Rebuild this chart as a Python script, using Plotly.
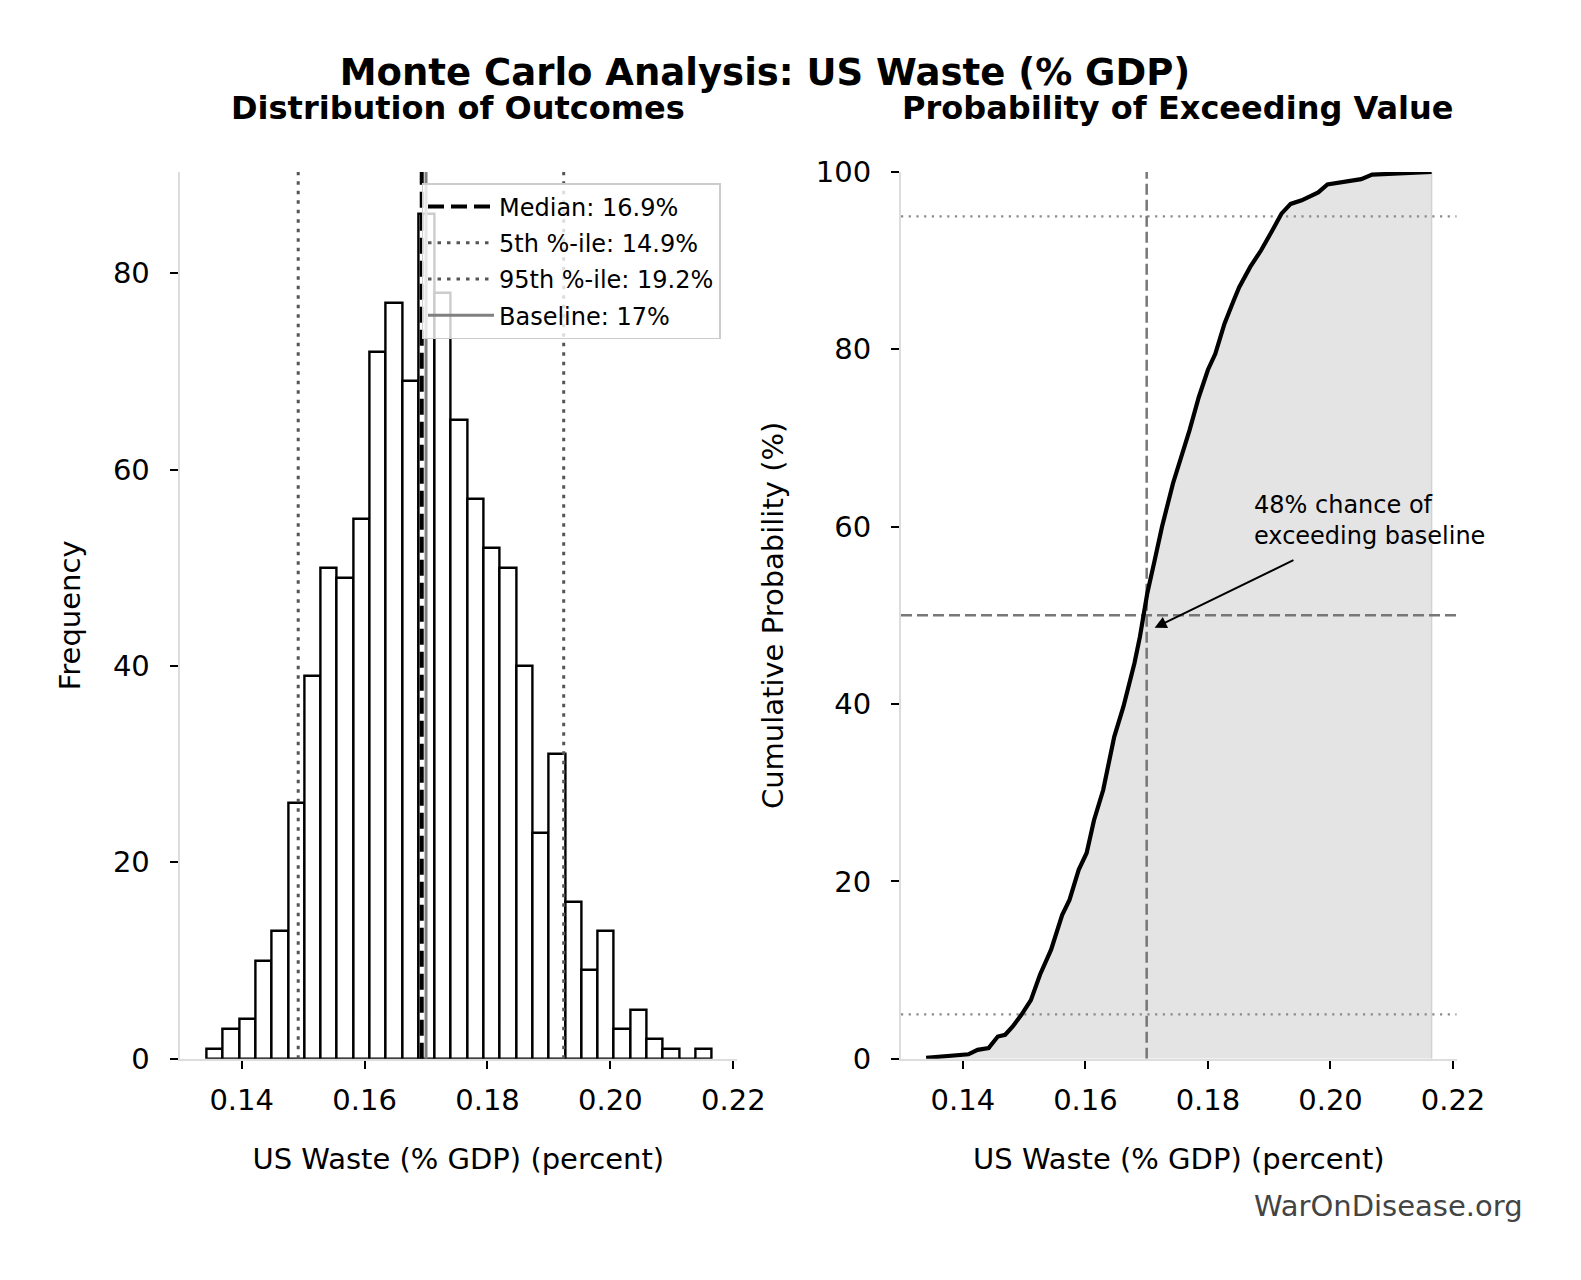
import numpy as np
import plotly.graph_objects as go

# ---------------- data ----------------
hist_counts = [1, 3, 4, 10, 13, 26, 39, 50, 49, 55, 72, 77, 69, 86, 78, 65,
               57, 52, 50, 40, 23, 31, 16, 9, 13, 3, 5, 2, 1, 0, 1]
hist_min = 0.1343
hist_max = 0.2165

median_val = 0.1693
p5_val = 0.1492
p95_val = 0.1924
baseline_val = 0.170

legend_labels = ["Median: 16.9%", "5th %-ile: 14.9%", "95th %-ile: 19.2%", "Baseline: 17%"]

cdf_x = [0.1340, 0.1409, 0.1424, 0.1442, 0.1457, 0.1469, 0.1481, 0.1496, 0.1511,
         0.1526, 0.1544, 0.1562, 0.1574, 0.1589, 0.1602, 0.1614, 0.1629, 0.1647,
         0.1662, 0.1680, 0.1689, 0.1696, 0.1701, 0.1713, 0.1725, 0.1743, 0.1755,
         0.1770, 0.1785, 0.1800, 0.1812, 0.1827, 0.1842, 0.1851, 0.1869, 0.1887,
         0.1905, 0.1920, 0.1935, 0.1953, 0.1980, 0.1995, 0.2050, 0.2068, 0.2165]
cdf_y = [0.1, 0.5, 1.0, 1.2, 2.5, 2.7, 3.6, 5.0, 6.6,
         9.5, 12.3, 16.2, 17.9, 21.3, 23.2, 26.9, 30.3, 36.3,
         39.7, 44.6, 47.6, 50.2, 52.5, 56.2, 60.0, 64.9, 67.5,
         70.9, 74.6, 77.7, 79.5, 82.9, 85.5, 87.0, 89.3, 91.2,
         93.4, 95.3, 96.4, 96.8, 97.7, 98.6, 99.2, 99.7, 100.0]

ref_levels = [5, 50, 95]
annot_text = "48% chance of<br>exceeding baseline"
annot_point = (0.1713, 48.6)
annot_tail = (0.1942, 56.3)
annot_text_pos = (0.1872, 60.7)

x_ticks = [0.14, 0.16, 0.18, 0.20, 0.22]
x_range = [0.1299, 0.2206]
hist_y_range = [0, 90.3]
cdf_y_range = [0, 100]

# ---------------- derived ----------------
bin_edges = np.linspace(hist_min, hist_max, len(hist_counts) + 1)
bin_centers = (bin_edges[:-1] + bin_edges[1:]) / 2
bin_width = bin_edges[1] - bin_edges[0]

FONT = "DejaVu Sans"
fig = go.Figure()

# histogram
fig.add_trace(go.Bar(
    x=bin_centers, y=hist_counts, width=bin_width,
    marker=dict(color="white", line=dict(color="black", width=2.4)),
    showlegend=False, xaxis="x", yaxis="y"))

line_specs = [
    (median_val, dict(color="black", width=4, dash="16px,7px")),
    (p5_val, dict(color="#555555", width=3, dash="3.5px,6px")),
    (p95_val, dict(color="#555555", width=3, dash="3.5px,6px")),
    (baseline_val, dict(color="#808080", width=3)),
]
for i, ((v, ln), lab) in enumerate(zip(line_specs, legend_labels)):
    fig.add_trace(go.Scatter(
        x=[v, v], y=hist_y_range, mode="lines", line=ln, name=lab,
        legendgroup=f"g{i}", showlegend=True, xaxis="x", yaxis="y"))

# CDF fill
fig.add_trace(go.Scatter(
    x=cdf_x + [cdf_x[-1]], y=cdf_y + [0], mode="lines", fill="tozeroy",
    fillcolor="rgb(228,228,228)", line=dict(color="#d2d2d2", width=1.5),
    showlegend=False, xaxis="x2", yaxis="y2"))

# reference lines on the CDF
for lvl in ref_levels:
    if lvl == 50:
        ln = dict(color="#777777", width=2.5, dash="11px,5px")
    else:
        ln = dict(color="#8a8a8a", width=2.2, dash="2.2px,5.5px")
    fig.add_trace(go.Scatter(
        x=x_range, y=[lvl, lvl], mode="lines", line=ln,
        showlegend=False, xaxis="x2", yaxis="y2"))
fig.add_trace(go.Scatter(
    x=[baseline_val, baseline_val], y=cdf_y_range, mode="lines",
    line=dict(color="#777777", width=2.5, dash="11px,5px"),
    showlegend=False, xaxis="x2", yaxis="y2"))

# CDF curve
fig.add_trace(go.Scatter(
    x=cdf_x, y=cdf_y, mode="lines", line=dict(color="black", width=4.2),
    showlegend=False, xaxis="x2", yaxis="y2"))

TICKF = dict(family=FONT, size=29, color="black")
TITLEF = dict(family=FONT, size=29, color="black")

def xax(domain, anchor):
    return dict(domain=domain, anchor=anchor, range=x_range, tickvals=x_ticks,
                tickformat=".2f", showline=True, linecolor="#dddddd", linewidth=2,
                ticks="outside", ticklen=8, tickwidth=2, tickcolor="black",
                showgrid=False, zeroline=False, tickfont=TICKF,
                ticklabelstandoff=6, automargin=False,
                title=dict(text="US Waste (% GDP) (percent)", font=TITLEF, standoff=33))

def yax(domain, anchor, rng, ticks, title):
    return dict(domain=domain, anchor=anchor, range=rng, tickvals=ticks,
                showline=True, linecolor="#dddddd", linewidth=2,
                ticks="outside", ticklen=8, tickwidth=2, tickcolor="black",
                showgrid=False, zeroline=False, tickfont=TICKF,
                ticklabelstandoff=14, automargin=False,
                title=dict(text=title, font=TITLEF, standoff=24))

ydom = [1 - 1058.7 / 1280, 1 - 172 / 1280]
fig.update_layout(
    width=1581, height=1280,
    margin=dict(l=0, r=0, t=0, b=0),
    paper_bgcolor="white", plot_bgcolor="white",
    font=dict(family=FONT, color="black"),
    bargap=0,
    xaxis=xax([179.6 / 1581, 737 / 1581], "y"),
    yaxis=yax(ydom, "x", hist_y_range, [0, 20, 40, 60, 80], "Frequency"),
    xaxis2=xax([901 / 1581, 1456.7 / 1581], "y2"),
    yaxis2=yax(ydom, "x2", cdf_y_range, [0, 20, 40, 60, 80, 100], "Cumulative Probability (%)"),
    title=dict(text="Monte Carlo Analysis: US Waste (% GDP)", x=765 / 1581, xanchor="center",
               y=1 - 72 / 1280, yanchor="middle",
               font=dict(family=FONT, size=37, weight="bold", color="black")),
    legend=dict(x=421.5 / 1581, y=1 - 183 / 1280, xanchor="left", yanchor="top",
                bgcolor="rgba(255,255,255,0.8)", bordercolor="#cccccc", borderwidth=1.5,
                font=dict(family=FONT, size=24, color="black"),
                tracegroupgap=2, itemwidth=66),
)

fig.add_annotation(text="Distribution of Outcomes", x=458 / 1581, y=1 - 108 / 1280,
                   xref="paper", yref="paper", showarrow=False, xanchor="center", yanchor="middle",
                   font=dict(family=FONT, size=32, weight="bold", color="black"))
fig.add_annotation(text="Probability of Exceeding Value", x=1178 / 1581, y=1 - 108 / 1280,
                   xref="paper", yref="paper", showarrow=False, xanchor="center", yanchor="middle",
                   font=dict(family=FONT, size=32, weight="bold", color="black"))

# annotation arrow and text on the CDF
fig.add_annotation(x=annot_point[0], y=annot_point[1], ax=annot_tail[0], ay=annot_tail[1],
                   xref="x2", yref="y2", axref="x2", ayref="y2", text="", showarrow=True,
                   arrowhead=2, arrowsize=1.2, arrowwidth=2, arrowcolor="black")
fig.add_annotation(x=annot_text_pos[0], y=annot_text_pos[1], xref="x2", yref="y2",
                   text=annot_text, showarrow=False, xanchor="left", yanchor="middle",
                   align="left", font=dict(family=FONT, size=24, color="black"))

fig.add_annotation(text="WarOnDisease.org", x=1525 / 1581, y=1 - 1206 / 1280,
                   xref="paper", yref="paper", showarrow=False, xanchor="right", yanchor="middle",
                   font=dict(family=FONT, size=29, color="#444444"))

fig.write_html("out.html")
